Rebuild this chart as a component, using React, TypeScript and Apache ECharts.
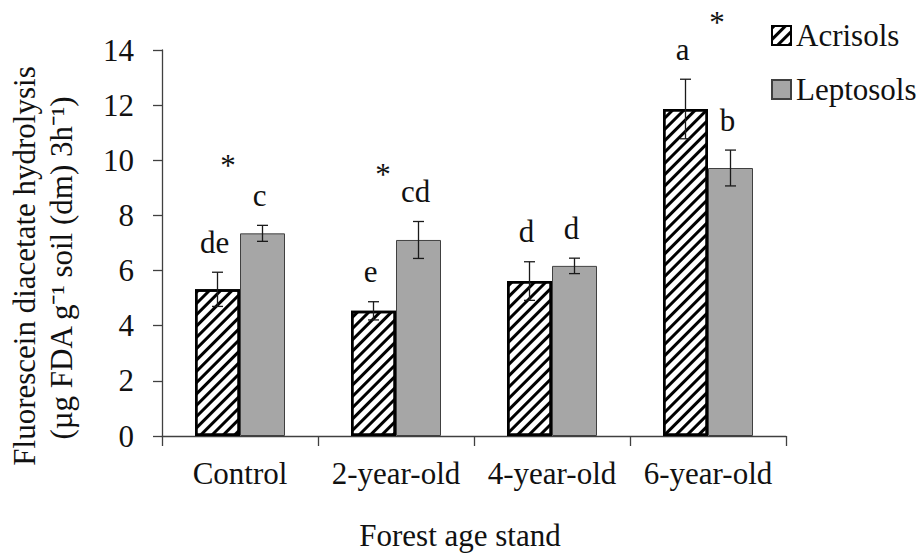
import { useEffect, useRef } from "react";
import * as echarts from "echarts";

const standAges = ["Control", "2-year-old", "4-year-old", "6-year-old"];
const soilNames = ["Acrisols", "Leptosols"];
const acrisolsMean = [5.32, 4.54, 5.62, 11.86];
const acrisolsErr = [0.62, 0.33, 0.7, 1.08];
const leptosolsMean = [7.35, 7.11, 6.17, 9.72];
const leptosolsErr = [0.29, 0.67, 0.28, 0.65];
const acrisolsLetters = ["de", "e", "d", "a"];
const leptosolsLetters = ["c", "cd", "d", "b"];
// significance asterisks between the soils: category, height (axis units), shift (px)
const asteriskCategory = [0, 1, 3];
const asteriskLevel = [9.8, 9.5, 15.0];
const asteriskShift = [-12, -13, 9];

const FONT = "'Liberation Serif', 'Times New Roman', serif";
const FS = 31;
const TEXT = "#111";
const AXIS = "#404040";
const BAR_W = 45;

function errorSeries(means: number[], errs: number[], letters: string[], shift: number) {
  return {
    type: "custom",
    silent: true,
    z: 5,
    encode: { x: 0, y: [1, 2] },
    data: means.map((m, i) => [i, m - errs[i], m + errs[i]]),
    renderItem: (params: any, api: any) => {
      const idx = params.dataIndex;
      const lo = api.coord([api.value(0), api.value(1)]);
      const hi = api.coord([api.value(0), api.value(2)]);
      const x = lo[0] + shift;
      const cap = 5.5;
      const style = { stroke: "#1a1a1a", lineWidth: 1.3 };
      return {
        type: "group",
        children: [
          { type: "line", shape: { x1: x, y1: hi[1], x2: x, y2: lo[1] }, style },
          { type: "line", shape: { x1: x - cap, y1: hi[1], x2: x + cap, y2: hi[1] }, style },
          { type: "line", shape: { x1: x - cap, y1: lo[1], x2: x + cap, y2: lo[1] }, style },
          {
            type: "text",
            x: x - 3,
            y: hi[1] - 30,
            style: {
              text: letters[idx],
              fontFamily: FONT,
              fontSize: FS,
              fill: TEXT,
              align: "center",
              verticalAlign: "middle",
            },
          },
        ],
      };
    },
  };
}

export default function App() {
  const ref = useRef<HTMLDivElement>(null);

  useEffect(() => {
    if (!ref.current) return;
    const chart = echarts.init(ref.current, undefined, { renderer: "svg" });

    chart.setOption({
      animation: false,
      backgroundColor: "#fff",
      grid: { left: 162, right: 136, top: 50, bottom: 118, containLabel: false },
      legend: {
        data: soilNames,
        orient: "vertical",
        left: 771,
        top: 20,
        padding: 0,
        itemWidth: 19,
        itemHeight: 19,
        itemGap: 23,
        icon: "rect",
        textStyle: { fontFamily: FONT, fontSize: FS, color: TEXT },
      },
      xAxis: {
        type: "category",
        data: standAges,
        axisLine: { lineStyle: { color: AXIS, width: 1.3 } },
        axisTick: { show: true, length: 10, interval: 0, lineStyle: { color: AXIS, width: 1.3 } },
        axisLabel: { margin: 22, fontFamily: FONT, fontSize: FS, color: TEXT, interval: 0 },
      },
      yAxis: {
        type: "value",
        min: 0,
        max: 14,
        interval: 2,
        splitLine: { show: false },
        axisLine: { show: true, lineStyle: { color: AXIS, width: 1.3 } },
        axisTick: { show: true, length: 9, lineStyle: { color: AXIS, width: 1.3 } },
        axisLabel: { margin: 28, fontFamily: FONT, fontSize: FS, color: TEXT },
      },
      series: [
        {
          name: soilNames[0],
          type: "bar",
          data: acrisolsMean,
          barWidth: BAR_W,
          barGap: "0%",
          itemStyle: {
            color: "#fff",
            borderColor: "#000",
            borderWidth: 2.5,
            decal: {
              symbol: "rect",
              symbolSize: 1,
              color: "#000",
              backgroundColor: "#fff",
              dashArrayX: [1, 0],
              dashArrayY: [2.3, 4.2],
              rotation: -Math.PI / 4,
            },
          },
        },
        {
          name: soilNames[1],
          type: "bar",
          data: leptosolsMean,
          barWidth: BAR_W,
          barGap: "0%",
          itemStyle: { color: "#a6a6a6", borderColor: "#404040", borderWidth: 1 },
        },
        errorSeries(acrisolsMean, acrisolsErr, acrisolsLetters, -BAR_W / 2),
        errorSeries(leptosolsMean, leptosolsErr, leptosolsLetters, BAR_W / 2),
        {
          type: "custom",
          silent: true,
          clip: false,
          z: 6,
          data: asteriskCategory.map((c, i) => [c, asteriskLevel[i]]),
          renderItem: (params: any, api: any) => {
            const p = api.coord([api.value(0), api.value(1)]);
            return {
              type: "text",
              x: p[0] + asteriskShift[params.dataIndex],
              y: p[1],
              style: {
                text: "*",
                fontFamily: FONT,
                fontSize: FS,
                fill: TEXT,
                align: "center",
                verticalAlign: "middle",
              },
            };
          },
        },
      ],
      graphic: [
        {
          type: "text",
          x: 24,
          y: 266,
          rotation: Math.PI / 2,
          style: {
            text: "Fluorescein diacetate hydrolysis",
            fontFamily: FONT,
            fontSize: FS,
            fill: TEXT,
            align: "center",
            verticalAlign: "middle",
          },
        },
        {
          type: "text",
          x: 61,
          y: 268,
          rotation: Math.PI / 2,
          style: {
            text: "(µg FDA g⁻¹ soil (dm) 3h⁻¹)",
            fontFamily: FONT,
            fontSize: FS,
            fill: TEXT,
            align: "center",
            verticalAlign: "middle",
          },
        },
        {
          type: "text",
          x: 460,
          y: 535,
          style: {
            text: "Forest age stand",
            fontFamily: FONT,
            fontSize: FS,
            fill: TEXT,
            align: "center",
            verticalAlign: "middle",
          },
        },
      ],
    });

    return () => chart.dispose();
  }, []);

  return <div ref={ref} style={{ width: 922, height: 554, position: "absolute", left: 0, top: 0 }} />;
}
